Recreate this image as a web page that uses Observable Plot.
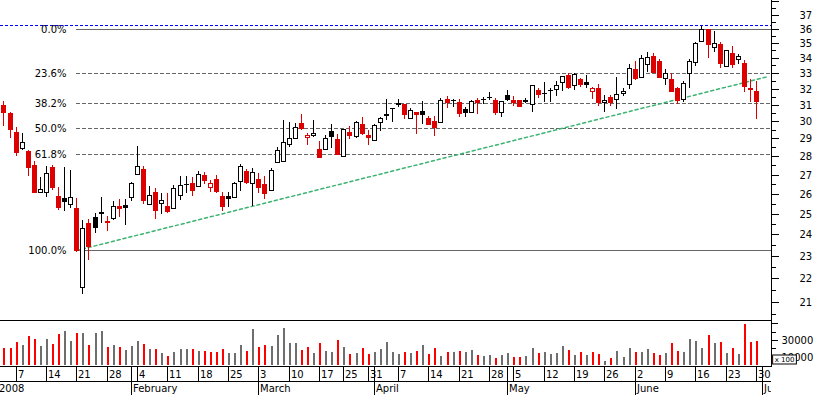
<!DOCTYPE html>
<html>
<head>
<meta charset="utf-8">
<script src="https://cdn.jsdelivr.net/npm/d3@7"></script>
<script src="https://cdn.jsdelivr.net/npm/@observablehq/plot@0.6"></script>
<style>
html, body { margin: 0; padding: 0; background: #fff; }
#chart { position: relative; width: 817px; height: 395px; overflow: hidden; background: #fff; }
#chart > div { position: absolute; left: 0; overflow: hidden; }
#chart svg { display: block; }
</style>
</head>
<body>
<div id="chart">
  <div id="price" style="top:0;width:817px;height:320px"></div>
  <div id="vol" style="top:320px;width:817px;height:47px"></div>
  <div id="dates" style="top:367px;width:771px;height:28px"></div>
</div>
<script>
// ---- trading sessions 2008 (month -> days) ----
const sessions = {
  1: [2,3,4,7,8,9,10,11,14,15,16,17,18,21,22,23,24,25,28,29,30,31],
  2: [1,4,5,6,7,8,11,12,13,14,15,18,19,20,21,22,25,26,27,28,29],
  3: [3,4,5,6,7,10,11,12,13,14,17,18,19,20,25,26,27,28,31],
  4: [1,2,3,4,7,8,9,10,11,14,15,16,17,18,21,22,23,24,25,28,29,30],
  5: [2,5,6,7,8,9,12,13,14,15,16,19,20,21,22,23,26,27,28,29,30],
  6: [2,3,4,5,6,9,10,11,12,13,16,17,18,19,20,23,24,25,26,27,30],
  7: [1,2]
};
const days = Object.entries(sessions).flatMap(([m, ds]) => ds.map(d => `${m}-${d}`));
const dayIndex = new Map(days.map((d, i) => [d, i]));

// ---- candles: first candle is 3 Jan, one value per session ----
const firstDay = "1-3";
const closeBefore = 31.3; // close of 2 Jan (off chart)
const open = [
30.98,30.50,29.37,28.43,28.29,27.52,26.07,26.11,27.43,25.89,25.78,25.48,25.27,21.65,24.56,24.85,25.09,24.64,24.78,25.36,25.43,
25.83,27.02,27.30,25.48,26.11,25.53,25.37,25.27,25.94,26.52,26.58,26.41,26.98,26.36,26.77,25.89,25.89,25.86,26.66,27.20,26.56,
26.77,26.50,26.20,27.67,27.76,28.67,29.01,29.92,29.06,29.20,28.40,28.40,29.43,28.95,28.03,29.37,29.14,29.84,29.20,
28.91,29.94,30.42,30.80,31.12,31.02,30.18,30.58,30.62,30.22,30.02,29.98,31.35,31.31,31.15,30.74,30.54,31.29,31.37,31.48,31.29,30.54,
31.60,31.29,31.29,31.28,31.04,31.91,31.73,31.93,31.98,32.44,32.87,32.25,32.60,32.44,31.87,32.06,31.17,31.50,31.34,31.71,32.28,
33.26,32.76,33.57,34.12,33.79,32.67,32.62,32.02,31.35,32.98,33.69,35.17,35.97,34.74,34.97,33.48,34.33,33.90,33.66,32.02,31.85
];
const high = [
31.25,30.55,29.65,29.32,28.35,27.76,26.87,27.47,27.52,26.37,27.43,27.25,25.78,24.69,24.74,25.03,25.85,24.88,25.61,25.73,25.73,
26.63,28.57,27.47,26.40,26.28,26.03,26.03,26.45,26.93,26.93,26.86,27.19,27.14,26.69,26.98,26.09,26.09,26.62,27.59,27.29,27.34,
27.10,26.93,27.34,28.50,30.08,29.96,29.89,30.44,29.33,30.08,28.85,29.20,29.84,29.26,29.53,29.73,30.02,30.24,29.46,
29.82,30.24,31.35,30.80,31.35,31.05,30.78,30.58,31.23,30.32,30.32,31.40,31.54,31.35,31.35,30.84,31.29,31.40,31.46,31.77,31.40,31.23,
31.91,31.54,31.29,31.39,32.23,32.06,32.40,32.02,32.49,32.81,32.98,33.00,32.70,32.87,32.12,32.28,31.62,31.60,32.77,32.02,33.56,
33.79,34.19,34.40,34.33,33.92,33.28,32.98,32.09,32.48,33.92,35.10,36.22,36.00,35.83,35.08,34.51,34.79,34.28,33.88,32.61,32.48
];
const low = [
29.73,29.05,28.03,28.35,26.93,26.04,26.02,25.85,26.20,25.18,25.15,25.27,23.20,21.34,22.82,24.08,24.53,24.17,24.69,24.85,24.44,
25.61,26.98,25.49,25.43,24.76,24.98,25.01,25.22,25.66,26.03,25.87,26.36,26.52,26.10,26.03,25.14,25.33,25.76,26.16,26.49,25.37,
26.06,25.75,26.16,27.64,27.74,28.50,29.00,29.50,28.63,29.06,27.94,28.40,28.44,28.07,28.03,28.97,29.04,29.18,28.65,
28.85,29.43,30.08,29.98,30.88,30.14,30.16,29.24,29.84,29.83,29.16,29.97,30.78,30.83,30.28,30.28,30.54,30.42,31.04,31.29,30.38,30.28,
31.23,30.94,30.88,31.11,30.58,31.43,31.19,31.19,31.56,31.87,31.98,31.89,32.08,32.02,31.35,30.94,30.58,30.90,30.71,31.54,32.00,
32.55,32.70,33.09,33.00,32.70,32.20,31.82,31.04,31.17,32.04,33.46,35.15,34.01,34.42,33.35,33.41,33.35,33.57,31.80,31.15,30.11
];
const close = [
30.58,29.53,28.25,28.77,27.39,26.11,26.24,27.07,26.37,25.32,25.61,25.83,23.25,24.29,23.46,24.34,25.01,24.59,25.37,25.30,25.34,
26.55,27.45,25.69,25.94,25.18,25.69,25.14,26.28,26.45,26.50,26.17,27.02,26.74,26.55,26.16,25.40,25.77,26.56,27.47,26.63,27.16,
26.37,26.03,27.25,28.35,28.80,29.01,29.65,29.63,29.20,29.30,27.97,29.01,29.16,28.12,29.53,29.20,29.94,29.33,29.06,
29.77,30.18,30.38,30.78,31.02,30.44,30.68,30.41,30.45,29.84,29.68,31.29,31.15,31.29,30.52,30.56,31.25,31.15,31.35,31.46,30.54,31.23,
31.35,31.15,30.94,31.25,32.21,31.65,31.71,31.91,32.23,32.81,32.07,32.96,32.26,32.30,32.02,31.19,31.29,31.15,31.66,31.87,33.31,
32.70,33.97,34.03,33.09,32.76,33.00,31.86,31.29,32.37,33.79,35.03,35.97,34.92,35.01,33.68,34.51,33.56,34.12,32.19,31.96,31.25
];
const volume = [
20000,20000,28000,24000,35200,31200,22800,31200,25200,37200,41200,29200,38800,38800,24000,38800,41200,22000,24000,22000,18000,
23200,29200,25200,18800,19600,14000,11200,15600,18800,19200,19600,16800,17200,15600,15600,19600,14800,14800,24000,17200,43200,
21600,24000,22800,36000,44800,26400,26400,18000,21600,14400,26400,16800,15600,30000,21600,13200,14400,20400,13200,
15200,19200,27600,15200,13200,15200,14800,16800,24000,13200,20400,11200,15200,15200,16800,15200,18000,12000,10800,12000,8400,12000,
14400,9600,9600,10800,20400,14400,15200,13200,14400,22800,18000,12000,15200,12000,15200,13200,4800,8400,16800,9600,20400,
15200,15200,19200,14400,12000,14400,26400,16800,15200,31200,28800,20400,36000,26400,27600,14400,20400,13200,49200,27600,28800
];

// ---- Fibonacci retracement, trend line, resistance ----
const fibHigh = 36.0, fibLow = 23.25, fibFrom = "1-21";
const fibLevels = [0, 23.6, 38.2, 50, 61.8, 100];
const fibLabels = ["0.0%", "23.6%", "38.2%", "50.0%", "61.8%", "100.0%"];
const trendDays = ["1-21", "7-2"];
const trendPrices = [23.25, 32.8];
const resistance = 36.3;

// ---- axis ticks ----
const priceTicks = [21,22,23,24,25,26,27,28,29,30,31,32,33,34,35,36,37,38];
const priceMinor = [20.5,21.5,22.5,23.5,24.5,25.5,26.5,27.5,28.5,29.5,30.5,31.5,32.5,33.5,34.5,35.5,36.5,37.5];
const volTicks = [10000, 30000, 50000];
const volTickLabels = ["10000", "30000", ""];
const volMinor = [20000, 40000];
const weekTicks = ["1-7","1-14","1-21","1-28","2-4","2-11","2-18","2-25","3-3","3-10","3-17","3-25","3-31",
  "4-7","4-14","4-21","4-28","5-5","5-12","5-19","5-26","6-2","6-9","6-16","6-23","6-30"];
const weekLabels = ["7","14","21","28","4","11","18","25","3","10","17","25","31",
  "7","14","21","28","5","12","19","26","2","9","16","23","30"];
const monthTicks = ["1-2","2-1","3-3","4-1","5-2","6-2","7-1"];
const monthLabels = ["2008","February","March","April","May","June","July"];

// ---- build tables ----
const RED = "#dd0000", INK = "#000000", VRED = "#ff0000", VGRAY = "#6e6e6e";
const X_DOMAIN = [0.4235, 127.46];
const start = dayIndex.get(firstDay);
const rows = open.map((o, k) => {
  const prev = k ? close[k - 1] : closeBefore;
  const down = close[k] < prev;
  return {
    i: start + k, open: o, high: high[k], low: low[k], close: close[k], volume: volume[k],
    top: Math.max(o, close[k]), bottom: Math.min(o, close[k]),
    hollow: close[k] >= o, color: down ? RED : INK, vcolor: down ? VRED : VGRAY
  };
});
const fibStart = dayIndex.get(fibFrom);
const fib = fibLevels.map((p, k) => ({
  price: fibHigh - (fibHigh - fibLow) * p / 100, label: fibLabels[k], solid: p === 0 || p === 100
}));
const trend = trendDays.map((d, k) => ({i: dayIndex.get(d), price: trendPrices[k]}));

const style = {fontFamily: "'DejaVu Sans', Verdana, sans-serif", fontSize: "10px", background: "transparent", color: "#000"};
const common = {width: 817, marginLeft: 0, marginRight: 46, marginTop: 0, marginBottom: 0, style};

const pricePlot = Plot.plot({
  ...common, height: 320,
  x: {domain: X_DOMAIN, round: true, axis: null},
  y: {type: "log", domain: [20.5, 38.5], range: [314.2, -5.14], round: true, axis: null},
  color: {type: "identity"},
  marks: [
    Plot.ruleY([resistance], {stroke: "#0000ff", strokeDasharray: "3,2"}),
    Plot.ruleY(fib.filter(f => f.solid), {y: "price", x1: () => fibStart, x2: () => X_DOMAIN[1], stroke: "#666"}),
    Plot.ruleY(fib.filter(f => !f.solid), {y: "price", x1: () => fibStart, x2: () => X_DOMAIN[1], stroke: "#666", strokeDasharray: "4,2"}),
    Plot.text(fib, {x: () => fibStart, y: "price", text: "label", textAnchor: "end", dx: -10, fill: "#000"}),
    Plot.line(trend, {x: "i", y: "price", stroke: "#3cb371", strokeDasharray: "3,3"}),
    Plot.ruleX(rows, {x: "i", y1: "high", y2: "low", stroke: "color"}),
    Plot.ruleX(rows, {x: "i", y1: "top", y2: "bottom", stroke: "color", strokeWidth: 5}),
    Plot.ruleX(rows.filter(d => d.hollow), {x: "i", y1: "top", y2: "bottom", stroke: "#fff", strokeWidth: 3, insetTop: 1}),
    Plot.ruleY(rows, {y: "open", x1: "i", x2: "i", insetLeft: -2, insetRight: -3, stroke: "color"}),
    Plot.ruleY(rows, {y: "close", x1: "i", x2: "i", insetLeft: -2, insetRight: -3, stroke: "color"}),
    Plot.ruleX([X_DOMAIN[1]]),
    Plot.axisY(priceTicks, {anchor: "right", tickSize: 7, tickPadding: 21, tickFormat: d => d <= 37 ? String(d) : "", label: null}),
    Plot.axisY(priceMinor, {anchor: "right", tickSize: 4, tickFormat: () => "", label: null})
  ]
});

const volPlot = Plot.plot({
  ...common, height: 47,
  x: {domain: X_DOMAIN, round: true, axis: null},
  y: {domain: [0, 54000], range: [45, 0], round: true, axis: null},
  color: {type: "identity"},
  marks: [
    Plot.ruleX(rows, {x: "i", y1: 0, y2: "volume", stroke: "vcolor", strokeWidth: 2, dx: 0.5}),
    Plot.ruleY([54000]),
    Plot.ruleY([0], {dy: 1}),
    Plot.ruleX([X_DOMAIN[1]]),
    Plot.axisY(volTicks, {anchor: "right", tickSize: 6, tickPadding: 4, tickFormat: (d) => volTickLabels[volTicks.indexOf(d)], label: null}),
    Plot.axisY(volMinor, {anchor: "right", tickSize: 4, tickFormat: () => "", label: null}),
    Plot.text(["x 100"], {frameAnchor: "bottom-right", dx: 13, dy: -6, textAnchor: "middle", fontSize: 7, fill: "#000"})
  ]
});

const datePlot = Plot.plot({
  width: 771, height: 28, marginLeft: 0, marginRight: 0, marginTop: 0, marginBottom: 0, style,
  x: {domain: X_DOMAIN, range: [0, 771], round: true, axis: null},
  y: {domain: [0, 2], range: [0, 28], axis: null},
  marks: [
    Plot.ruleX(weekTicks, {x: d => dayIndex.get(d), y1: 0, y2: 1}),
    Plot.ruleX(monthTicks, {x: d => dayIndex.get(d), y1: 0, y2: 2}),
    Plot.ruleY([1]),
    Plot.text(weekTicks, {x: d => dayIndex.get(d), y: 0.5, text: (d, k) => weekLabels[k], textAnchor: "start", dx: 1.5, fill: "#000"}),
    Plot.text(monthTicks, {x: d => dayIndex.get(d), y: 1.5, text: (d, k) => monthLabels[k], textAnchor: "start", dx: 1.5, fill: "#000"})
  ]
});

document.getElementById("price").appendChild(pricePlot);
document.getElementById("vol").appendChild(volPlot);
document.getElementById("dates").appendChild(datePlot);

// box around the "x 100" unit label
const unit = d3.select(volPlot).selectAll("text").filter(function () { return this.textContent === "x 100"; }).node();
if (unit) {
  const bb = unit.getBBox();
  d3.select(unit.parentNode).insert("rect", () => unit)
    .attr("x", bb.x - 2).attr("y", bb.y - 0.5).attr("width", bb.width + 4).attr("height", bb.height + 1)
    .attr("transform", unit.getAttribute("transform"))
    .attr("fill", "#fff").attr("stroke", "#000").attr("stroke-width", 1);
}
</script>
</body>
</html>
